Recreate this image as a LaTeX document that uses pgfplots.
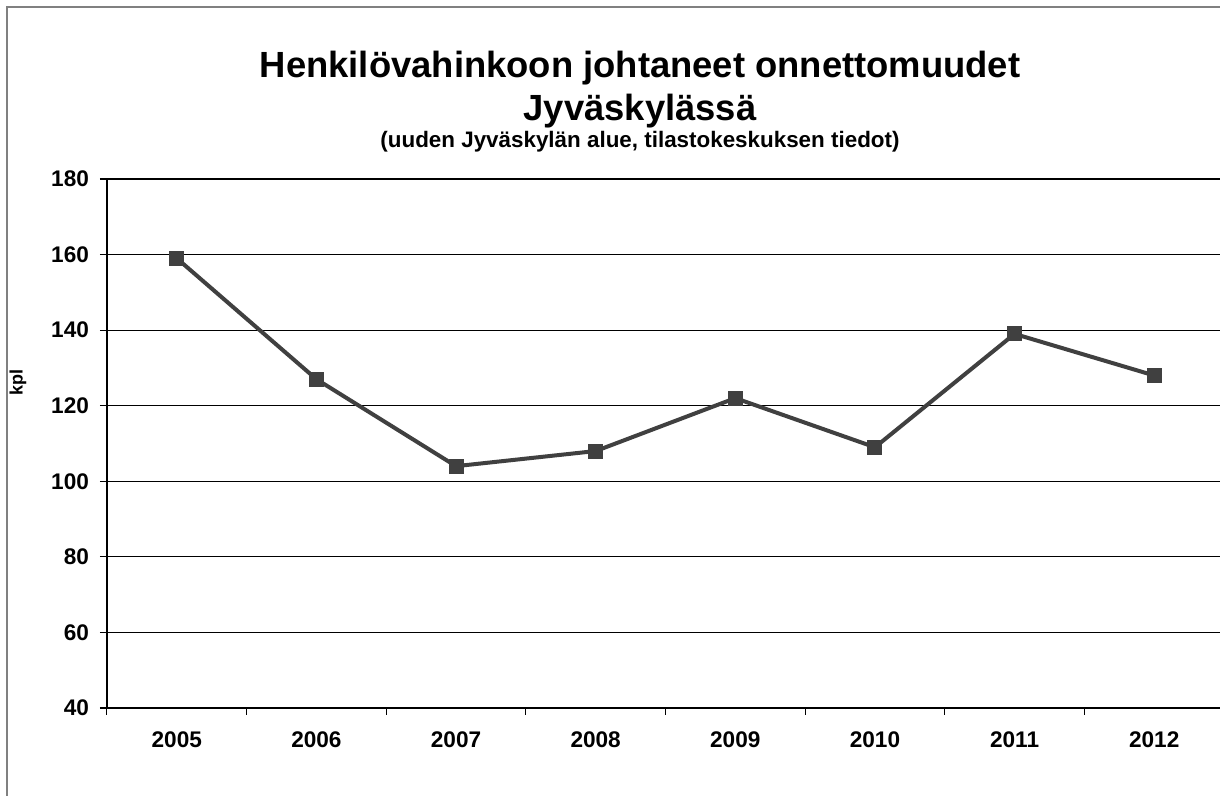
\documentclass[border=0pt]{standalone}
\usepackage{pgfplots}
\pgfplotsset{compat=1.18}
\usepackage{fontspec}
\setmainfont{Liberation Sans}
\definecolor{serie}{RGB}{64,64,64}
\definecolor{kehys}{RGB}{128,128,128}

\begin{document}
\begin{tikzpicture}
\useasboundingbox (0,0) rectangle (610pt,398pt);
\clip (0,0) rectangle (610pt,398pt);
\fill[white] (0,0) rectangle (610pt,398pt);
\draw[kehys, line width=1pt] (3.5pt,-20pt) rectangle (700pt,394.5pt);

\node[anchor=base, font=\bfseries\fontsize{18.2}{20}\selectfont] at (320pt,359pt) {Henkilövahinkoon johtaneet onnettomuudet};
\node[anchor=base, font=\bfseries\fontsize{18.2}{20}\selectfont] at (320pt,337.5pt) {Jyväskylässä};
\node[anchor=base, font=\bfseries\fontsize{11.2}{13}\selectfont] at (320pt,324pt) {(uuden Jyväskylän alue, tilastokeskuksen tiedot)};
\node[rotate=90, font=\bfseries\fontsize{9}{11}\selectfont] at (9pt,206.5pt) {kpl};

\begin{axis}[
    at={(53.5pt,44pt)}, anchor=south west,
    scale only axis,
    width=558.5pt, height=264.5pt,
    xmin=-0.5, xmax=7.5,
    ymin=40, ymax=180,
    ytick={40,60,...,180},
    xtick={0,...,7},
    xticklabels={2005,2006,2007,2008,2009,2010,2011,2012},
    minor xtick={-0.5,0.5,...,7.5},
    major x tick style={draw=none},
    minor x tick style={black, line width=0.5pt},
    minor tick length=3.5pt,
    major tick length=3.5pt,
    tick align=outside,
    tick pos=left,
    ymajorgrids,
    grid style={black, line width=0.6pt},
    axis x line*=bottom,
    axis y line*=left,
    axis line style={black, line width=0.8pt, -},
    y tick style={black, line width=0.6pt},
    /pgf/number format/assume math mode=true,
    tick label style={font=\bfseries\fontsize{11.3}{13}\selectfont},
    xticklabel style={yshift=-5pt},
    yticklabel style={xshift=-2pt},
    clip=false,
  ]
  \addplot[serie, line width=2pt, mark=square*, mark size=3.5pt,
           mark options={fill=serie, draw=serie, line width=0pt}]
    coordinates {
      (0,159) (1,127) (2,104) (3,108) (4,122) (5,109) (6,139) (7,128)
    };
\end{axis}
\end{tikzpicture}
\end{document}
